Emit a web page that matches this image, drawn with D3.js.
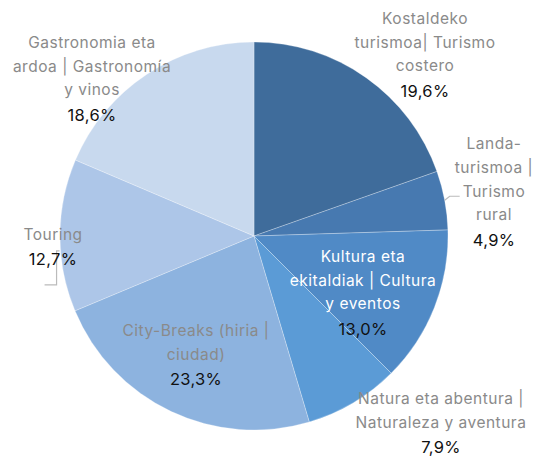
<!DOCTYPE html>
<html>
<head>
<meta charset="utf-8">
<script src="https://cdn.jsdelivr.net/npm/d3@7"></script>
<style>
  html, body { margin: 0; padding: 0; background: #fff; }
  svg { display: block; }
  .name { font-family: Inter, "Noto Sans", sans-serif; font-size: 15.5px; letter-spacing: 0.5px; fill: #8a8a8a; }
  .pct { font-family: Inter, "Noto Sans", sans-serif; font-size: 16.5px; letter-spacing: 0.3px; fill: #111; }
</style>
</head>
<body>
<svg id="chart"></svg>
<script>
// data, clockwise from 12 o'clock
const categories = [
  ["Kostaldeko", "turismoa| Turismo", "costero"],
  ["Landa-", "turismoa |", "Turismo", "rural"],
  ["Kultura eta", "ekitaldiak | Cultura", "y eventos"],
  ["Natura eta abentura |", "Naturaleza y aventura"],
  ["City-Breaks (hiria |", "ciudad)"],
  ["Touring"],
  ["Gastronomia eta", "ardoa | Gastronomía", "y vinos"]
]
const values = [19.6, 4.9, 13.0, 7.9, 23.3, 12.7, 18.6]
const colors = ["#3f6c9b", "#4779b0", "#508ac6", "#5b9bd6", "#8db3df", "#adc6e8", "#c8d9ee"]

const width = 538, height = 459
const cx = 254, cy = 236, radius = 194
const lineH = 23.8

// label block centre offsets from the pie centre, and name colour
const labelLayout = [
  { dx: 171, dy: -182, fill: "#8a8a8a" },
  { dx: 240, dy: -45, fill: "#8a8a8a" },
  { dx: 109, dy: 56, fill: "#ffffff" },
  { dx: 187, dy: 186, fill: "#8a8a8a" },
  { dx: -58, dy: 118, fill: "#8a8a8a" },
  { dx: -201, dy: 10, fill: "#8a8a8a" },
  { dx: -162, dy: -158, fill: "#8a8a8a" }
]

const svg = d3.select("#chart").attr("width", width).attr("height", height)
const g = svg.append("g").attr("transform", `translate(${cx},${cy})`)

const pie = d3.pie().sort(null).value((d) => d)
const arc = d3.arc().innerRadius(0).outerRadius(radius)
const arcs = pie(values)

g.selectAll("path.slice")
  .data(arcs)
  .enter()
  .append("path")
  .attr("class", "slice")
  .attr("d", arc)
  .attr("fill", (d, i) => colors[i])
  .attr("stroke", "rgba(255,255,255,0.45)")
  .attr("stroke-width", 0.6)

// leader lines for the two small outside labels
const edge = (a, r) => [Math.sin(a) * r, -Math.cos(a) * r]
const rural = arcs[1]
const rp = edge((rural.startAngle + rural.endAngle) / 2, radius)
g.append("path")
  .attr("d", `M${rp[0]},${rp[1]} L${rp[0] + 5},${rp[1] - 4} L${rp[0] + 15},${rp[1] - 4}`)
  .attr("fill", "none")
  .attr("stroke", "#bbb")
  .attr("stroke-width", 1.2)

const tour = arcs[5]
const tp = edge(tour.startAngle + (tour.endAngle - tour.startAngle) * 0.4, radius)
g.append("path")
  .attr("d", `M${tp[0] - 1},${tp[1]} L${tp[0] - 4},${tp[1]} L${tp[0] - 4},${tp[1] + 34} L${tp[0] - 16},${tp[1] + 34}`)
  .attr("fill", "none")
  .attr("stroke", "#bbb")
  .attr("stroke-width", 1.2)

// labels
arcs.forEach((d, i) => {
  const lay = labelLayout[i]
  const lines = categories[i]
  const n = lines.length + 1
  const top = lay.dy - ((n - 1) * lineH) / 2
  const t = g.append("g")
  lines.forEach((line, j) => {
    t.append("text")
      .attr("class", "name")
      .attr("x", lay.dx)
      .attr("y", top + j * lineH)
      .attr("text-anchor", "middle")
      .attr("dominant-baseline", "central")
      .style("fill", lay.fill)
      .text(line)
  })
  t.append("text")
    .attr("class", "pct")
    .attr("x", lay.dx)
    .attr("y", top + lines.length * lineH + 1)
    .attr("text-anchor", "middle")
    .attr("dominant-baseline", "central")
    .text(d3.format(".1f")(values[i]).replace(".", ",") + "%")
})
</script>
</body>
</html>
